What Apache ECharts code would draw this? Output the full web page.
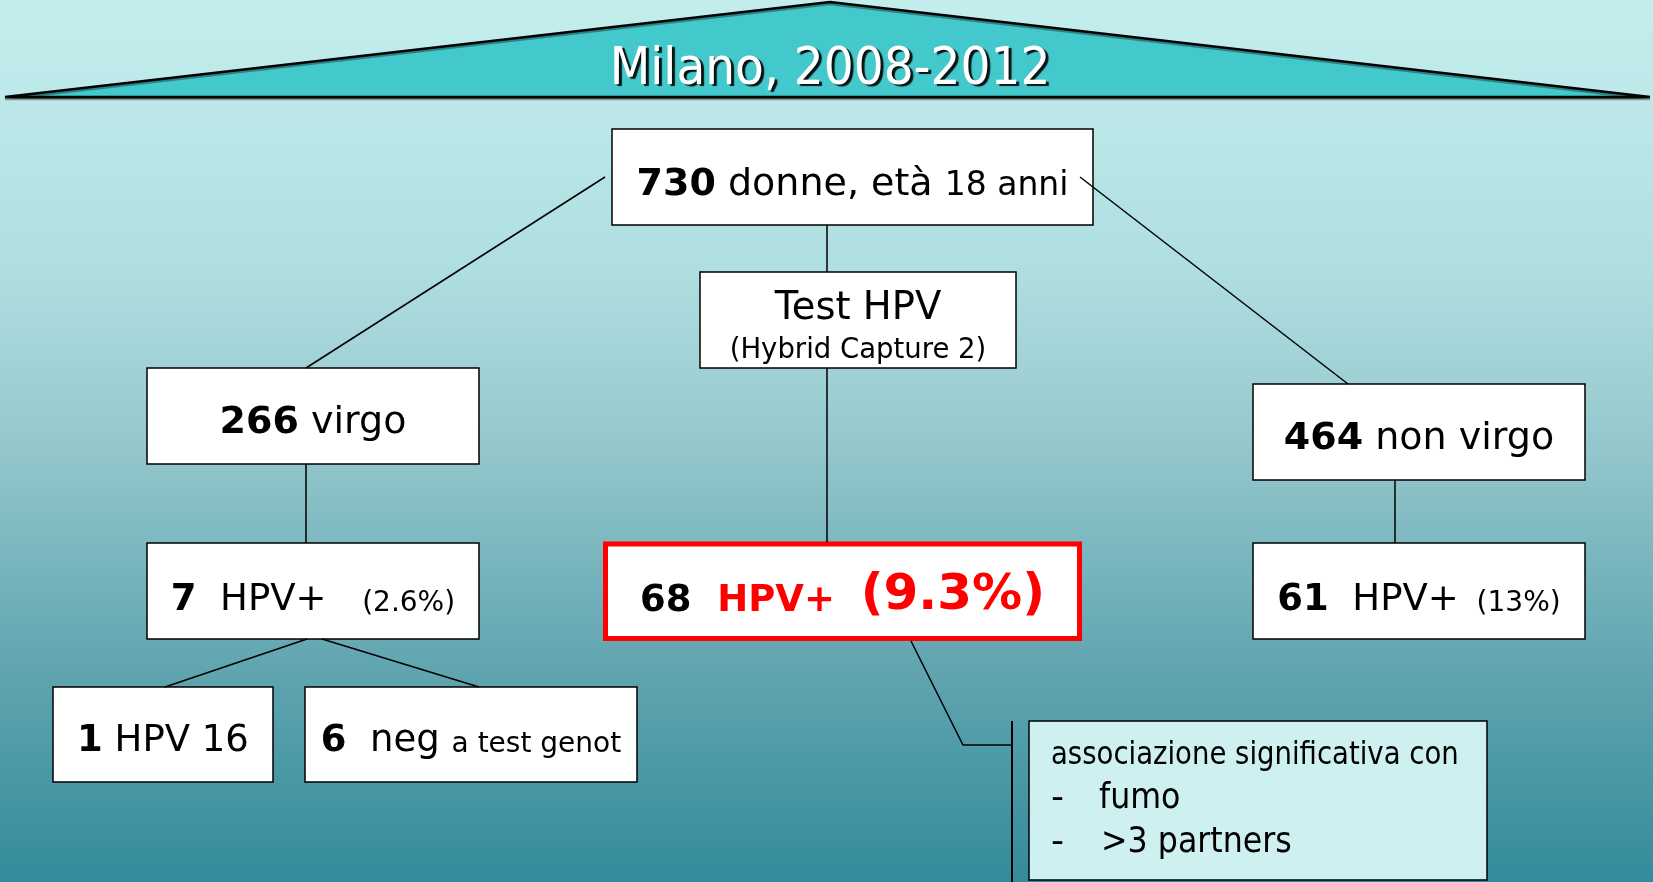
<!DOCTYPE html>
<html>
<head>
<meta charset="utf-8">
<style>
  html, body { margin: 0; padding: 0; overflow: hidden; }
  #main { width: 1653px; height: 882px; }
</style>
<script src="https://cdn.jsdelivr.net/npm/echarts@6/dist/echarts.min.js"></script>
</head>
<body>
<div id="main"></div>
<script>
// dati dello studio
var chartTitle = 'Milano, 2008-2012';
var totalWomen = 730;
var totalLabel = 'donne, età';
var ageNote = '18 anni';
var testName = 'Test HPV';
var testNote = '(Hybrid Capture 2)';
var groupNames = ['virgo', 'non virgo'];
var groupCounts = [266, 464];
var posLabel = 'HPV+';
var posCounts = [7, 68, 61];          // virgo, totale, non virgo
var posPct = ['2.6%', '9.3%', '13%'];
var genoCounts = [1, 6];
var genoLabels = ['HPV 16', 'neg'];
var genoNotes = ['', 'a test genot'];
var assocTitle = 'associazione significativa con';
var assocFactors = ['fumo', '>3 partners'];

// layout (coordinate della pagina, asse y verso il basso)
var FONT = 'DejaVu Sans';
// height = lineHeight ~ 0.69em: con verticalAlign bottom le linee di base coincidono
function rs(size, weight, color) {
  var h = Math.round(size * 0.69);
  return {
    fontSize: size, fontWeight: weight || 'normal', fill: color || '#000',
    fontFamily: FONT, height: h, lineHeight: h, verticalAlign: 'bottom'
  };
}
var rich = {
  b: rs(38, 'bold'),
  n: rs(38),
  m: rs(33),
  s: rs(28),
  h: rs(27.5),
  t: rs(38.5),
  rb: rs(37, 'bold', '#ff0000'),
  k: rs(37, 'bold'),
  rB: rs(50, 'bold', '#ff0000'),
  p: rs(37),
  a: rs(32),
  f: rs(36)
};

var nodes = [
  { rect: [612, 129, 1093, 225],
    rows: [{ y: 198, t: '{b|' + totalWomen + '}{n| ' + totalLabel + ' }{m|' + ageNote + '}' }] },
  { rect: [700, 272, 1016, 368],
    rows: [{ y: 322, t: '{t|' + testName + '}' }, { y: 360, t: '{h|' + testNote + '}' }] },
  { rect: [147, 368, 479, 464],
    rows: [{ y: 436, t: '{b|' + groupCounts[0] + '}{n| ' + groupNames[0] + '}' }] },
  { rect: [1253, 384, 1585, 480],
    rows: [{ y: 452, t: '{b|' + groupCounts[1] + '}{n| ' + groupNames[1] + '}' }] },
  { rect: [147, 543, 479, 639],
    rows: [{ y: 613, t: '{k|' + posCounts[0] + '}{p|  ' + posLabel + '}{s|    (' + posPct[0] + ')}' }] },
  { rect: [605.5, 544, 1079.5, 638.5], stroke: '#ff0000', lineWidth: 5,
    rows: [{ y: 614, t: '{k|' + posCounts[1] + '}{rb|  ' + posLabel + '  }{rB|(' + posPct[1] + ')}' }] },
  { rect: [1253, 543, 1585, 639],
    rows: [{ y: 613, t: '{k|' + posCounts[2] + '}{p|  ' + posLabel + '}{s|  (' + posPct[2] + ')}' }] },
  { rect: [53, 687, 273, 782],
    rows: [{ y: 754, t: '{k|' + genoCounts[0] + '}{p| ' + genoLabels[0] + '}' }] },
  { rect: [305, 687, 637, 782],
    rows: [{ y: 754, t: '{k|' + genoCounts[1] + '}{p|  ' + genoLabels[1] + ' }{s|' + genoNotes[1] + '}' }] },
  { rect: [1029, 721, 1487, 880], fill: '#cff0f0',
    rows: [
      { x: 1051, y: 767, align: 'left', sx: 0.86, t: '{a|' + assocTitle + '}' },
      { x: 1051, y: 811, align: 'left', t: '{f|-}' },
      { x: 1099, y: 811, align: 'left', sx: 0.88, t: '{f|' + assocFactors[0] + '}' },
      { x: 1051, y: 855, align: 'left', t: '{f|-}' },
      { x: 1101, y: 855, align: 'left', sx: 0.88, t: '{f|' + assocFactors[1] + '}' }
    ] }
];

var links = [
  [[827, 225], [827, 272]],
  [[827, 368], [827, 542]],
  [[605, 177], [306, 368]],
  [[1080, 177], [1348, 384]],
  [[306, 464], [306, 543]],
  [[1395, 480], [1395, 543]],
  [[307, 639], [165, 687]],
  [[322, 639], [479, 687]],
  [[911, 641], [963, 745], [1012, 745]],
  [[1012, 721], [1012, 882]]
];

var roof = [[5, 97], [830, 2], [1650, 97]];

var chartDom = document.getElementById('main');
var myChart = echarts.init(chartDom);

function pts(api, list) {
  return list.map(function (p) { return api.coord(p); });
}

var option = {
  animation: false,
  backgroundColor: new echarts.graphic.LinearGradient(0, 0, 0, 1, [
    { offset: 0, color: '#c4eeee' },
    { offset: 0.3, color: '#b0dfe1' },
    { offset: 0.5, color: '#95c8cd' },
    { offset: 0.75, color: '#62a6b1' },
    { offset: 1, color: '#338b9b' }
  ]),
  grid: { left: 0, right: 0, top: 0, bottom: 0 },
  xAxis: { type: 'value', min: 0, max: 1653, show: false },
  yAxis: { type: 'value', min: 0, max: 882, inverse: true, show: false },
  series: [
    {
      // tetto con il titolo
      type: 'custom',
      clip: false,
      z: 1,
      data: [[0]],
      renderItem: function (params, api) {
        var apex = api.coord(roof[1]);
        return {
          type: 'group',
          children: [
            {
              type: 'polygon',
              shape: { points: pts(api, roof) },
              style: { fill: '#43c8cc', stroke: '#000', lineWidth: 2.5,
                       shadowColor: 'rgba(0,0,0,0.35)', shadowOffsetY: 2 }
            },
            {
              type: 'text',
              x: apex[0], y: api.coord([0, 88])[1],
              scaleX: 0.905,
              style: {
                text: '{title|' + chartTitle + '}', rich: {
                  title: { fontSize: 52, fontFamily: FONT, fill: '#fff',
                           height: 36, lineHeight: 36, verticalAlign: 'bottom',
                           textShadowColor: 'rgba(0,0,0,0.9)', textShadowOffsetX: 3,
                           textShadowOffsetY: 2, textShadowBlur: 1 }
                },
                textShadowColor: 'rgba(0,0,0,0.9)', textShadowOffsetX: 3,
                textShadowOffsetY: 2, textShadowBlur: 1,
                align: 'center', verticalAlign: 'bottom'
              }
            }
          ]
        };
      }
    },
    {
      // collegamenti
      type: 'custom',
      clip: false,
      z: 3,
      data: links.map(function (l, i) { return [i]; }),
      renderItem: function (params, api) {
        return {
          type: 'polyline',
          shape: { points: pts(api, links[params.dataIndex]) },
          style: { fill: null, stroke: '#000', lineWidth: params.dataIndex === 9 ? 2 : 1.5 }
        };
      }
    },
    {
      // riquadri
      type: 'custom',
      clip: false,
      z: 2,
      data: nodes.map(function (n, i) { return [i]; }),
      renderItem: function (params, api) {
        var n = nodes[params.dataIndex];
        var p1 = api.coord([n.rect[0], n.rect[1]]);
        var p2 = api.coord([n.rect[2], n.rect[3]]);
        var children = [{
          type: 'rect',
          shape: { x: p1[0], y: p1[1], width: p2[0] - p1[0], height: p2[1] - p1[1] },
          style: { fill: n.fill || '#fff', stroke: n.stroke || '#000', lineWidth: n.lineWidth || 1.5 }
        }];
        n.rows.forEach(function (r) {
          var c = api.coord([r.x != null ? r.x : (n.rect[0] + n.rect[2]) / 2, r.y]);
          children.push({
            type: 'text',
            x: c[0], y: c[1],
            scaleX: r.sx || 1,
            style: {
              text: r.t, rich: rich,
              fontFamily: FONT, fontSize: 37,
              align: r.align || 'center', verticalAlign: 'bottom'
            }
          });
        });
        return { type: 'group', children: children };
      }
    }
  ]
};

option && myChart.setOption(option);
</script>
</body>
</html>
